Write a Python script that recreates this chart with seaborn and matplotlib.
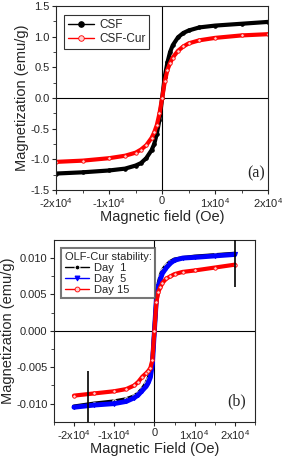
import matplotlib
matplotlib.use("Agg")

import matplotlib.pyplot as plt
import seaborn as sns
import pandas as pd

# --- panel (a): M-H loops of CSF and CSF-Cur ---
field_a = [-20000, -15000, -10000, -7000, -5000, -4000, -3000, -2000, -1500, -1000, -500, 0,
           500, 1000, 1500, 2000, 3000, 4000, 5000, 7000, 10000, 15000, 20000]
m_csf = [-1.23, -1.21, -1.18, -1.15, -1.10, -1.06, -0.98, -0.85, -0.75, -0.58, -0.35, 0.0,
         0.35, 0.58, 0.75, 0.86, 0.99, 1.06, 1.10, 1.15, 1.18, 1.21, 1.24]
m_csf_cur = [-1.04, -1.02, -0.98, -0.94, -0.89, -0.84, -0.77, -0.65, -0.56, -0.44, -0.25, 0.0,
             0.27, 0.46, 0.57, 0.66, 0.77, 0.84, 0.89, 0.94, 0.98, 1.02, 1.04]

# --- panel (b): OLF-Cur stability ---
field_b = [-20000, -15000, -10000, -7000, -5000, -4000, -3000, -2000, -1500, -1000, -500, 0,
           500, 1000, 1500, 2000, 3000, 4000, 5000, 7000, 10000, 15000, 20000]
m_day1 = [-0.0104, -0.0100, -0.0097, -0.0094, -0.0090, -0.0086, -0.0080, -0.0072, -0.0066, -0.0058, -0.0042, 0.0,
          0.0045, 0.0064, 0.0075, 0.0083, 0.0090, 0.0095, 0.0098, 0.0100, 0.0102, 0.0104, 0.0106]
m_day5 = [-0.0105, -0.0102, -0.0100, -0.0097, -0.0092, -0.0088, -0.0082, -0.0076, -0.0071, -0.0064, -0.0046, 0.0,
          0.0044, 0.0061, 0.0071, 0.0079, 0.0087, 0.0093, 0.0097, 0.0100, 0.0101, 0.0103, 0.0105]
m_day15 = [-0.0089, -0.0086, -0.0083, -0.0080, -0.0075, -0.0070, -0.0063, -0.0058, -0.0055, -0.0051, -0.0040, 0.0,
           0.0040, 0.0054, 0.0060, 0.0066, 0.0072, 0.0075, 0.0078, 0.0081, 0.0083, 0.0087, 0.0091]
# error bars on Day 1 at the two ends
err_x = [-16500, 20000]
err_y = [-0.0100, 0.0100]
err_size = [0.0045, 0.0040]

x_ticks = [-20000, -10000, 0, 10000, 20000]
x_labels = ["-2x10$^{4}$", "-1x10$^{4}$", "0", "1x10$^{4}$", "2x10$^{4}$"]

sns.set_style("ticks")
plt.rcParams["font.family"] = ["Liberation Sans", "DejaVu Sans"]
plt.rcParams["mathtext.fontset"] = "custom"
plt.rcParams["mathtext.rm"] = "Liberation Sans"

fig = plt.figure(figsize=(2.82, 4.57), dpi=100)
ax1 = fig.add_axes([0.199, 0.584, 0.752, 0.403])
ax2 = fig.add_axes([0.191, 0.077, 0.713, 0.398])

df_a = pd.DataFrame({"field": field_a * 2,
                     "M": m_csf + m_csf_cur,
                     "sample": ["CSF"] * len(field_a) + ["CSF-Cur"] * len(field_a)})
sns.lineplot(data=df_a[df_a["sample"] == "CSF"], x="field", y="M", ax=ax1, color="black",
             lw=3, marker="o", ms=2.5, mec="black", label="CSF")
sns.lineplot(data=df_a[df_a["sample"] == "CSF-Cur"], x="field", y="M", ax=ax1, color="red",
             lw=3, marker="o", ms=2.5, mfc="#ffd0d0", mec="red", mew=0.6, label="CSF-Cur")

for ax in (ax1, ax2):
    ax.axhline(0, color="black", lw=0.8, zorder=0)
    ax.axvline(0, color="black", lw=0.8, zorder=0)
    for s in ax.spines.values():
        s.set_linewidth(0.8)
        s.set_visible(True)
    ax.tick_params(direction="out", length=3, width=0.8, labelsize=8, pad=1.5)
    ax.tick_params(which="minor", direction="out", length=2, width=0.6)

ax1.set_xlim(-20000, 20000)
ax1.set_ylim(-1.5, 1.5)
ax1.set_xticks(x_ticks)
ax1.set_xticklabels(x_labels)
ax1.set_xticks([-15000, -5000, 5000, 15000], minor=True)
ax1.set_yticks([-1.5, -1.0, -0.5, 0.0, 0.5, 1.0, 1.5])
ax1.set_yticklabels(["-1.5", "-1.0", "-0.5", "0.0", "0.5", "1.0", "1.5"])
ax1.set_yticks([-1.25, -0.75, -0.25, 0.25, 0.75, 1.25], minor=True)
ax1.set_xlabel("Magnetic field (Oe)", fontsize=10.5, labelpad=0)
ax1.set_ylabel("Magnetization (emu/g)", fontsize=10.5, labelpad=1)
ax1.text(0.985, 0.09, "(a)", transform=ax1.transAxes, ha="right", va="center",
         fontsize=11.5, family="Liberation Serif")
leg1 = ax1.legend(loc="upper left", bbox_to_anchor=(0.01, 0.985), fontsize=8.5, frameon=True,
                  fancybox=False, handlelength=2.2, handletextpad=0.4, borderpad=0.35,
                  labelspacing=0.2)
leg1.get_frame().set_edgecolor("black")
leg1.get_frame().set_linewidth(0.8)
for h in leg1.legend_handles:
    h.set_linewidth(1)
    h.set_markersize(4)

df_b = pd.DataFrame({"field": field_b * 3,
                     "M": m_day1 + m_day5 + m_day15,
                     "day": ["Day  1"] * len(field_b) + ["Day  5"] * len(field_b) + ["Day 15"] * len(field_b)})
sns.lineplot(data=df_b[df_b["day"] == "Day  1"], x="field", y="M", ax=ax2, color="black",
             lw=3, marker="o", ms=2.5, label="Day  1")
sns.lineplot(data=df_b[df_b["day"] == "Day  5"], x="field", y="M", ax=ax2, color="blue",
             lw=3.5, marker="v", ms=3, mec="blue", label="Day  5")
sns.lineplot(data=df_b[df_b["day"] == "Day 15"], x="field", y="M", ax=ax2, color="red",
             lw=3, marker="o", ms=2.5, mfc="#ffd0d0", mec="red", mew=0.6, label="Day 15")
ax2.errorbar(err_x, err_y, yerr=err_size, fmt="none", ecolor="black", elinewidth=1.2,
             capsize=0, zorder=5)

ax2.set_xlim(-25000, 25000)
ax2.set_ylim(-0.0125, 0.0125)
ax2.set_xticks(x_ticks)
ax2.set_xticklabels(x_labels)
ax2.set_xticks([-25000, -15000, -5000, 5000, 15000, 25000], minor=True)
ax2.set_yticks([-0.010, -0.005, 0.0, 0.005, 0.010])
ax2.set_yticklabels(["-0.010", "-0.005", "0.000", "0.005", "0.010"])
ax2.set_yticks([-0.0075, -0.0025, 0.0025, 0.0075], minor=True)
ax2.set_xlabel("Magnetic Field (Oe)", fontsize=10.5, labelpad=0)
ax2.set_ylabel("Magnetization (emu/g)", fontsize=10.5, labelpad=1)
ax2.text(0.955, 0.115, "(b)", transform=ax2.transAxes, ha="right", va="center",
         fontsize=11.5, family="Liberation Serif")
leg2 = ax2.legend(loc="upper left", bbox_to_anchor=(0.01, 0.985), fontsize=8, frameon=True,
                  fancybox=False, title="OLF-Cur stability:", title_fontsize=8,
                  handlelength=2.2, handletextpad=0.4, borderpad=0.3, labelspacing=0.1,
                  alignment="left")
leg2.get_frame().set_edgecolor("#555555")
leg2.get_frame().set_linewidth(1.5)
for h in leg2.legend_handles:
    h.set_linewidth(1)
    h.set_markersize(3.5)

fig.savefig("out.png", dpi=100)
